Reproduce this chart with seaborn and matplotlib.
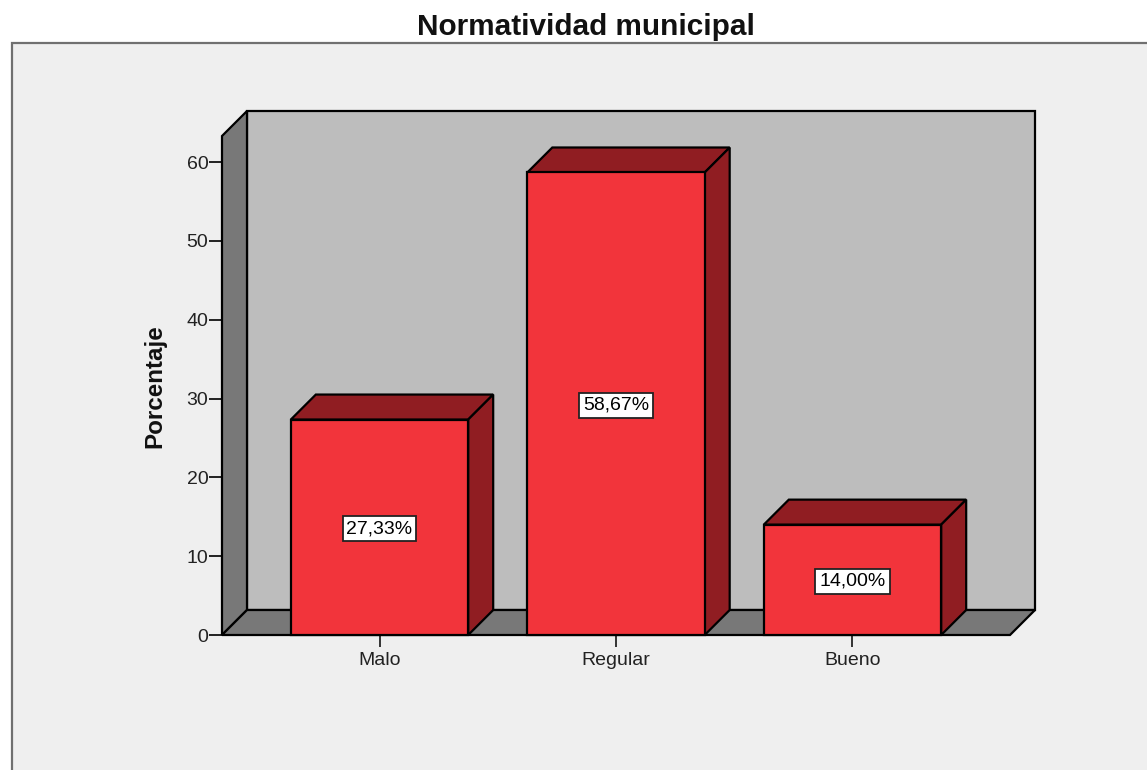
#!/usr/bin/env python3
# -*- coding: utf-8 -*-
import matplotlib
matplotlib.use("Agg")
import matplotlib.pyplot as plt
from matplotlib.patches import Polygon, Rectangle
import pandas as pd
import seaborn as sns

categorias = ['Malo', 'Regular', 'Bueno']
porcentajes = [27.33, 58.67, 14.00]
yticks = [0, 10, 20, 30, 40, 50, 60]

rojo = '#f2343b'
rojo_osc = '#901d22'
gris_pared = '#bdbdbd'
gris_osc = '#787878'
fondo = '#efefef'

W, H = 1147, 770

sns.set_theme(style='white')
plt.rcParams['font.family'] = ['Liberation Sans', 'DejaVu Sans']

fig = plt.figure(figsize=(W/100, H/100), dpi=100, facecolor='white')

# outer grey panel, open to the right and bottom
fig.patches.append(Rectangle((12/W, -0.02), 1.1, (770-43)/H + 0.02, transform=fig.transFigure,
                             facecolor=fondo, edgecolor='#707070', linewidth=1.6, zorder=-1))

ax = fig.add_axes([222/W, 1-635/H, (1010-222)/W, (635-136)/H])
ax.patch.set_alpha(0)

df = pd.DataFrame({'cat': categorias, 'pct': porcentajes})
sns.barplot(data=df, x='cat', y='pct', color=rojo, saturation=1, width=0.75,
            edgecolor='black', linewidth=1.6, ax=ax, zorder=3)

ymax = 63.3
xmin, xmax = -0.666, 2.666
ax.set_xlim(xmin, xmax)
ax.set_ylim(0, ymax)

# depth of the fake 3D box, 25 px in both directions
dx = 25 * (xmax-xmin) / 788
dy = 25 * ymax / 499


def cara(pts, color, z):
    ax.add_patch(Polygon(pts, closed=True, facecolor=color, edgecolor='black',
                         linewidth=1.6, clip_on=False, zorder=z))


# walls
cara([(xmin+dx, dy), (xmax+dx, dy), (xmax+dx, ymax+dy), (xmin+dx, ymax+dy)], gris_pared, 0)
cara([(xmin, 0), (xmin+dx, dy), (xmin+dx, ymax+dy), (xmin, ymax)], gris_osc, 1)
cara([(xmin, 0), (xmax, 0), (xmax+dx, dy), (xmin+dx, dy)], gris_osc, 1)

# bar tops and sides, built from the bars seaborn drew
for bar, val in zip(list(ax.patches)[:len(porcentajes)], porcentajes):
    x0 = bar.get_x()
    x1 = x0 + bar.get_width()
    bar.set_clip_on(False)
    cara([(x0, val), (x1, val), (x1+dx, val+dy), (x0+dx, val+dy)], rojo_osc, 2)
    cara([(x1, 0), (x1+dx, dy), (x1+dx, val+dy), (x1, val)], rojo_osc, 2)
    ax.annotate(f'{val:.2f}%'.replace('.', ','), (x0 + bar.get_width()/2, val/2),
                xytext=(0, -1), textcoords='offset points',
                ha='center', va='center', fontsize=14, color='black', zorder=5,
                bbox=dict(boxstyle='square,pad=0.2', facecolor='white', edgecolor='#222222', linewidth=1.3))

for s in ax.spines.values():
    s.set_visible(False)

ax.set_yticks(yticks)
ax.tick_params(axis='y', left=True, length=9.4, width=1.4, color='#222222',
               labelsize=14, pad=0.5, labelcolor='#222222')
ax.tick_params(axis='x', bottom=True, length=8.6, width=1.4, color='#333333',
               labelsize=14, pad=3.5, labelcolor='#222222')
ax.set_xlabel('')
ax.set_ylabel('')

fig.text(586/W, 1-27/H, 'Normatividad municipal', ha='center', va='center',
         fontsize=21.4, fontweight='bold', color='#111111')
fig.text(155/W, 1-386/H, 'Porcentaje', ha='center', va='center', rotation=90,
         fontsize=17.4, fontweight='bold', color='#111111')

fig.savefig('out.png', dpi=100, facecolor='white')
